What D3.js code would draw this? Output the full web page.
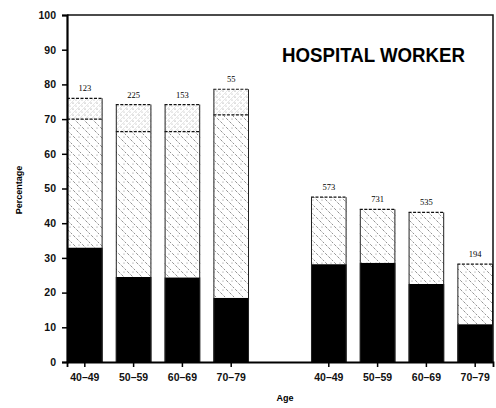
<!DOCTYPE html>
<meta charset="utf-8">
<head>
  <title>Hospital worker</title>
</head>
<style>
body { margin: 0; background: #fff; font-family: "Liberation Sans", Arial, sans-serif; }
.axis text { font-family: "Liberation Sans", Arial, sans-serif; font-weight: bold; fill: #111; }
.count { font-family: "Liberation Serif", "Times New Roman", serif; font-size: 8.5px; fill: #000; }
</style>
<body>
<script src="https://cdnjs.cloudflare.com/ajax/libs/d3/7.8.5/d3.min.js"></script>
<script>

// slots along x, with an empty slot between the two groups
var slots = ["a40", "a50", "a60", "a70", "gap", "b40", "b50", "b60", "b70"];
var slotLabels = ["40\u201349", "50\u201359", "60\u201369", "70\u201379", "",
                  "40\u201349", "50\u201359", "60\u201369", "70\u201379"];
var bars = ["a40", "a50", "a60", "a70", "b40", "b50", "b60", "b70"];

// segment heights (percent), bottom to top
var solidPart  = [33, 24.5, 24.4, 18.5, 28.2, 28.6, 22.5, 10.9];
var hatchPart  = [37, 41.9, 42.0, 52.7, 19.3, 15.4, 20.6, 17.3];
var dottedPart = [6, 7.8, 7.8, 7.4, 0, 0, 0, 0];
var counts = ["123", "225", "153", "55", "573", "731", "535", "194"];
var yTicks = [0, 10, 20, 30, 40, 50, 60, 70, 80, 90, 100];

var w = 496, h = 408;
var margin = {top: 15, right: 3, bottom: 46, left: 67};

var svg = d3.select("body").append("svg")
  .attr("width", w)
  .attr("height", h);

var defs = svg.append("defs");

// diagonal hatch "\\\\"
var hatch = defs.append("pattern")
  .attr("id", "hatch")
  .attr("patternUnits", "userSpaceOnUse")
  .attr("width", 9).attr("height", 9);
hatch.append("rect").attr("width", 9).attr("height", 9).attr("fill", "#fff");
hatch.append("path")
  .attr("d", "M-2,-2L11,11M-2,7L2,11M7,-2L11,2")
  .attr("stroke", "#777")
  .attr("stroke-width", 0.8)
  .attr("stroke-dasharray", "3,1.5");
hatch.append("circle").attr("cx", 7).attr("cy", 2).attr("r", 0.6).attr("fill", "#888");

// stipple
var dots = defs.append("pattern")
  .attr("id", "dots")
  .attr("patternUnits", "userSpaceOnUse")
  .attr("width", 6).attr("height", 6);
dots.append("rect").attr("width", 6).attr("height", 6).attr("fill", "#fff");
dots.append("circle").attr("cx", 1).attr("cy", 1).attr("r", 0.6).attr("fill", "#888");
dots.append("circle").attr("cx", 4, ).attr("cy", 4).attr("r", 0.5).attr("fill", "#999");
dots.append("path").attr("d", "M0,6L6,0").attr("stroke", "#ccc").attr("stroke-width", 0.5);

var x = d3.scaleBand()
  .domain(slots)
  .range([margin.left, w - margin.right])
  .paddingInner(0.27)
  .paddingOuter(0);

var y = d3.scaleLinear()
  .domain([0, 100])
  .range([h - margin.bottom, margin.top]);

var table = bars.map(function(k, i) {
  return {key: k, solid: solidPart[i], hatch: hatchPart[i], dotted: dottedPart[i], n: counts[i]};
});

var stack = d3.stack().keys(["solid", "hatch", "dotted"]);
var series = stack(table);
var fills = {solid: "#000", hatch: "url(#hatch)", dotted: "url(#dots)"};

var g = svg.append("g");

series.forEach(function(s) {
  g.selectAll(null)
    .data(s.filter(function(d) { return d[1] > d[0]; }))
    .enter()
    .append("rect")
    .attr("x", function(d) { return x(d.data.key); })
    .attr("width", x.bandwidth())
    .attr("y", function(d) { return y(d[1]); })
    .attr("height", function(d) { return y(d[0]) - y(d[1]); })
    .attr("fill", fills[s.key]);
});

// dashed tops of the patterned segments
series.slice(1).forEach(function(s) {
  g.selectAll(null)
    .data(s.filter(function(d) { return d[1] > d[0]; }))
    .enter()
    .append("line")
    .attr("x1", function(d) { return x(d.data.key); })
    .attr("x2", function(d) { return x(d.data.key) + x.bandwidth(); })
    .attr("y1", function(d) { return y(d[1]); })
    .attr("y2", function(d) { return y(d[1]); })
    .attr("stroke", "#111")
    .attr("stroke-width", 1.2)
    .attr("stroke-dasharray", "3,1.5");
});

// bar sides
var tops = series[series.length - 1];
g.selectAll(null)
  .data(tops)
  .enter()
  .append("path")
  .attr("d", function(d) {
    var x0 = x(d.data.key) + 0.5, x1 = x(d.data.key) + x.bandwidth() - 0.5;
    return "M" + x0 + "," + y(0) + "V" + y(d[1]) + "M" + x1 + "," + y(d[1]) + "V" + y(0);
  })
  .attr("stroke", "#222")
  .attr("stroke-width", 1)
  .attr("fill", "none");

// sample sizes
g.selectAll(".count")
  .data(tops)
  .enter()
  .append("text")
  .attr("class", "count")
  .attr("x", function(d) { return x(d.data.key) + x.bandwidth() / 2; })
  .attr("y", function(d) { return y(d[1]) - 7; })
  .attr("text-anchor", "middle")
  .text(function(d) { return d.data.n; });

// frame
svg.append("path")
  .attr("d", "M" + margin.left + "," + y(100) + "H" + (w - margin.right) + "V" + y(0))
  .attr("stroke", "#111")
  .attr("stroke-width", 1.5)
  .attr("fill", "none");

// y axis
var yAxis = svg.append("g")
  .attr("class", "axis")
  .attr("transform", "translate(" + margin.left + ",0)")
  .call(d3.axisLeft(y).tickValues(yTicks).tickSize(5).tickPadding(6));
yAxis.select(".domain").attr("stroke-width", 2.2).attr("stroke", "#000");
yAxis.selectAll(".tick line").attr("stroke-width", 1.5);
yAxis.selectAll("text").attr("font-size", 10.5);

// x axis
var xAxis = svg.append("g")
  .attr("class", "axis")
  .attr("transform", "translate(0," + y(0) + ")")
  .call(d3.axisBottom(x).tickSize(5).tickPadding(7)
    .tickFormat(function(d, i) { return slotLabels[i]; }));
xAxis.select(".domain").attr("stroke-width", 1.8).attr("stroke", "#000");
xAxis.selectAll(".tick").filter(function(d) { return d === "gap"; }).remove();
xAxis.selectAll(".tick line").attr("stroke-width", 1.5);
xAxis.selectAll("text").attr("font-size", 10.5);

// labels
svg.append("text")
  .attr("transform", "translate(22,190) rotate(-90)")
  .attr("text-anchor", "middle")
  .attr("font-size", 9)
  .attr("font-weight", "bold")
  .text("Percentage");

svg.append("text")
  .attr("x", 285)
  .attr("y", 401)
  .attr("text-anchor", "middle")
  .attr("font-size", 9)
  .attr("font-weight", "bold")
  .text("Age");

svg.append("text")
  .attr("x", 282)
  .attr("y", 62)
  .attr("font-size", 20)
  .attr("font-weight", "bold")
  .attr("textLength", 183)
  .attr("lengthAdjust", "spacingAndGlyphs")
  .text("HOSPITAL WORKER");

</script>
</body>
</html>
